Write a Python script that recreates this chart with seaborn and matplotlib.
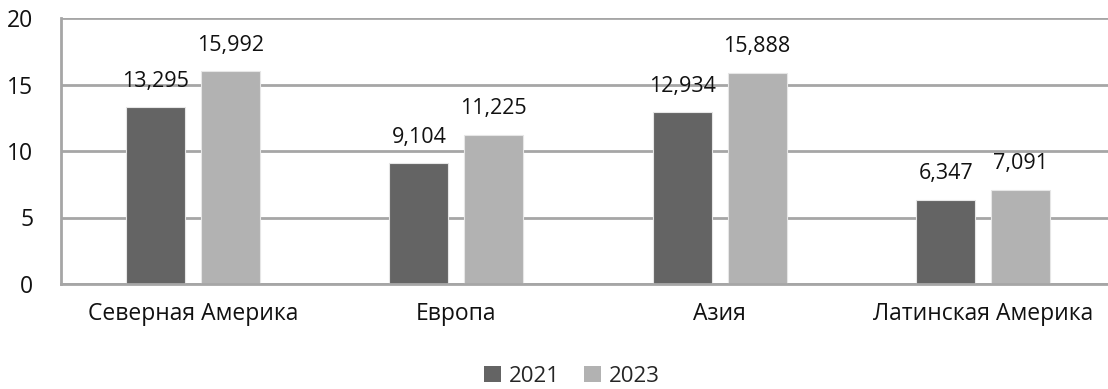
import matplotlib
matplotlib.use("Agg")
import matplotlib.pyplot as plt
import seaborn as sns
import pandas as pd
from matplotlib.patches import Patch

regions = ["Северная Америка", "Европа", "Азия", "Латинская Америка"]
years = ["2021", "2023"]
values_2021 = [13.295, 9.104, 12.934, 6.347]
values_2023 = [15.992, 11.225, 15.888, 7.091]
y_ticks = [0, 5, 10, 15, 20]

colors = {"2021": "#646464", "2023": "#B2B2B2"}

df = pd.DataFrame({
    "region": regions * 2,
    "year": [years[0]] * len(regions) + [years[1]] * len(regions),
    "value": values_2021 + values_2023,
})

sns.set_theme(style="white")
plt.rcParams["font.family"] = ["Open Sans", "DejaVu Sans"]

W, H = 1108, 389
fig = plt.figure(figsize=(W / 100, H / 100), dpi=100)
ax = fig.add_axes([61 / W, 105 / H, (1115 - 61) / W, (284 - 18) / H])

sns.barplot(data=df, x="region", y="value", hue="year", palette=colors,
            width=0.568, gap=0.21, ax=ax, legend=False,
            edgecolor="#E6E6E6", linewidth=0.8)

ax.set_ylim(0, 20)
ax.set_yticks(y_ticks)
ax.set_yticklabels([str(t) for t in y_ticks])
ax.yaxis.grid(True, color="#A6A6A6", linewidth=2)
ax.set_axisbelow(True)
ax.set_xlabel("")
ax.set_ylabel("")
for side in ("top", "right"):
    ax.spines[side].set_visible(False)
for side in ("left", "bottom"):
    ax.spines[side].set_color("#A6A6A6")
    ax.spines[side].set_linewidth(2)
ax.tick_params(axis="y", length=0, pad=20, labelsize=16.5, labelcolor="#111111")
ax.tick_params(axis="x", length=0, pad=13, labelsize=16.5, labelcolor="#111111")

for container in ax.containers:
    ax.bar_label(container, labels=[f"{v:.3f}".replace(".", ",") for v in container.datavalues],
                 padding=11, fontsize=15.5, color="#111111")

handles = [Patch(facecolor=colors[y], edgecolor="none", label=y) for y in years]
fig.legend(handles=handles, loc="center", bbox_to_anchor=(572 / W, 1 - 376 / H),
           ncol=2, frameon=False, fontsize=16, handlelength=0.75, handleheight=0.75,
           handletextpad=0.35, columnspacing=1.1, borderpad=0)

fig.savefig("out.png", dpi=100)
